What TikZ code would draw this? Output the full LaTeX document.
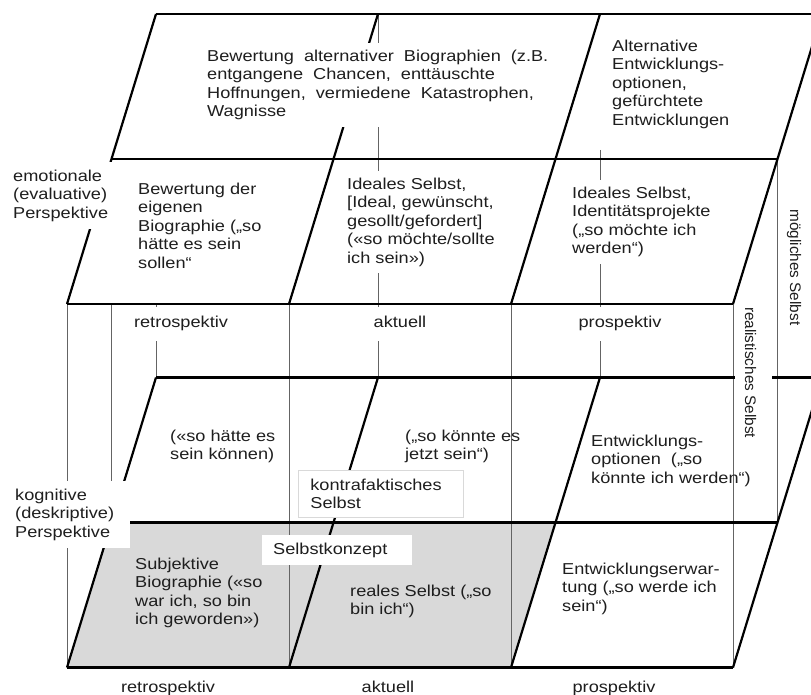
\documentclass[tikz,border=0pt]{standalone}
\usepackage{fontspec}
\setmainfont{Liberation Sans}[FakeStretch=1.15]
\newfontfamily\plainlabelfont{Liberation Sans}
\usetikzlibrary{calc}
\definecolor{cellgrey}{RGB}{217,217,217}
\definecolor{guidegrey}{RGB}{100,100,100}
\definecolor{inkgrey}{RGB}{30,30,30}
\newcommand{\widespaces}{\spaceskip=10pt\relax}

\begin{document}
\begin{tikzpicture}[x=1pt, y=-1pt,
		font=\fontsize{15.8}{18.5}\selectfont, text=inkgrey,
		thickline/.style={line width=2.2pt, black},
		thinline/.style={line width=1pt, guidegrey},
		cell text/.style={anchor=north west, align=left, inner sep=0pt},
		white cell/.style={cell text, fill=white, inner sep=7pt},
		axis label/.style={anchor=base, fill=white, inner xsep=2pt, inner ysep=10pt, text height=11pt, text depth=3.4pt},
		self label/.style={rotate=-90, font=\plainlabelfont\fontsize{15.3}{18}\selectfont, inner xsep=3pt, text depth=3.4pt}]

		\useasboundingbox (0,0) rectangle (811,695);
		\clip (0,0) rectangle (811,695);

		% corner points of both layers
		\foreach \i in {0,...,3}
			\foreach \j in {0,1,2} {
				\coordinate (u\i\j) at ({156+222*\i-44.5*\j}, {14+145*\j});
				\coordinate (l\i\j) at ({156+222*\i-44.5*\j}, {377.5+145*\j});
			}
		\coordinate (cut) at (0,150);

		% shaded self concept
		\fill[cellgrey] (l01) -- (l21) -- (l22) -- (l02) -- cycle;

		% verticals between the layers
		\foreach \i in {0,...,3}
			\draw[thinline] (u\i2) -- (l\i2);
		\draw[thinline] (u31) -- (l31);
		\draw[thinline] (u01 |- u02) -- (l01);
		\draw[thinline] (u00 |- u02) -- (l00);
		\draw[thinline] (u10) -- (l10);
		\draw[thinline] (u20 |- cut) -- (l20);

		% grid of both layers
		\foreach \k in {u,l} {
			\foreach \j in {0,1,2}
				\draw[thickline] (\k0\j) -- (\k3\j);
			\foreach \i in {0,...,3}
				\draw[thickline] (\k\i0) -- (\k\i2);
		}

		% emotional layer
		\node[white cell, font=\fontsize{15.8}{18.5}\selectfont\widespaces] (altbio) at (200,42.5) {Bewertung alternativer Biographien (z.B.\\ entgangene Chancen, enttäuschte\\ Hoffnungen, vermiedene Katastrophen,\\ Wagnisse};
		\node[white cell] (altopt) at (605,32.5) {Alternative\\ Entwicklungs-\\ optionen,\\ gefürchtete\\ Entwicklungen};
		\node[white cell] (ownbio) at (131,175.5) {Bewertung der\\ eigenen\\ Biographie („so\\ hätte es sein\\ sollen“};
		\node[white cell] (idealnow) at (340,170.5) {Ideales Selbst,\\ {[}Ideal, gewünscht,\\ gesollt/gefordert]\\ («so möchte/sollte\\ ich sein»)};
		\node[white cell] (idealfut) at (565,179.5) {Ideales Selbst,\\ Identitätsprojekte\\ („so möchte ich\\ werden“)};

		% cognitive layer
		\node[cell text] (couldpast) at (170,429.5) {(«so hätte es\\ sein können)};
		\node[cell text] (couldnow) at (405,429.5) {(„so könnte es\\ jetzt sein“)};
		\node[cell text] (optfut) at (591,434.5) {Entwicklungs-\\ optionen\ \ („so\\ könnte ich werden“)};
		\node[cell text] (subjbio) at (135,557.5) {Subjektive\\ Biographie («so\\ war ich, so bin\\ ich geworden»)};
		\node[cell text] (realnow) at (350,584.5) {reales Selbst („so\\ bin ich“)};
		\node[cell text] (expectfut) at (562,562.5) {Entwicklungserwar-\\ tung („so werde ich\\ sein“)};

		% boxes on the cognitive layer
		\node[cell text, fill=white, draw=black!15, line width=0.8pt, inner xsep=12pt, inner ysep=8.5pt, text width=141pt] (kontra) at (298,470) {kontrafaktisches\\ Selbst};
		\node[cell text, fill=white, inner xsep=11pt, inner ysep=7.5pt, text width=128pt] (konzept) at (262,535) {Selbstkonzept};

		% perspectives
		\node[cell text, fill=white, inner sep=7.5pt, text width=96pt] (emolabel) at (5.5,162) {emotionale\\ (evaluative)\\ Perspektive};
		\node[cell text, fill=white, inner sep=8pt, text width=107pt] (koglabel) at (7,480.5) {kognitive\\ (deskriptive)\\ Perspektive};

		% time axis
		\node[axis label] (retroup) at (181,327.5) {retrospektiv};
		\node[axis label] (aktup) at (400,327.5) {aktuell};
		\node[axis label] (prosup) at (620,327.5) {prospektiv};
		\node[axis label] (retrodown) at (168,692.5) {retrospektiv};
		\node[axis label] (aktdown) at (388,692.5) {aktuell};
		\node[axis label] (prosdown) at (614,692.5) {prospektiv};

		% depth axis
		\node[self label, fill=white, inner ysep=7pt, text height=20pt] (realistic) at (753.3,372.5) {realistisches Selbst};
		\node[self label, text height=11pt] (possible) at (794,267.5) {mögliches Selbst};

\end{tikzpicture}
\end{document}
